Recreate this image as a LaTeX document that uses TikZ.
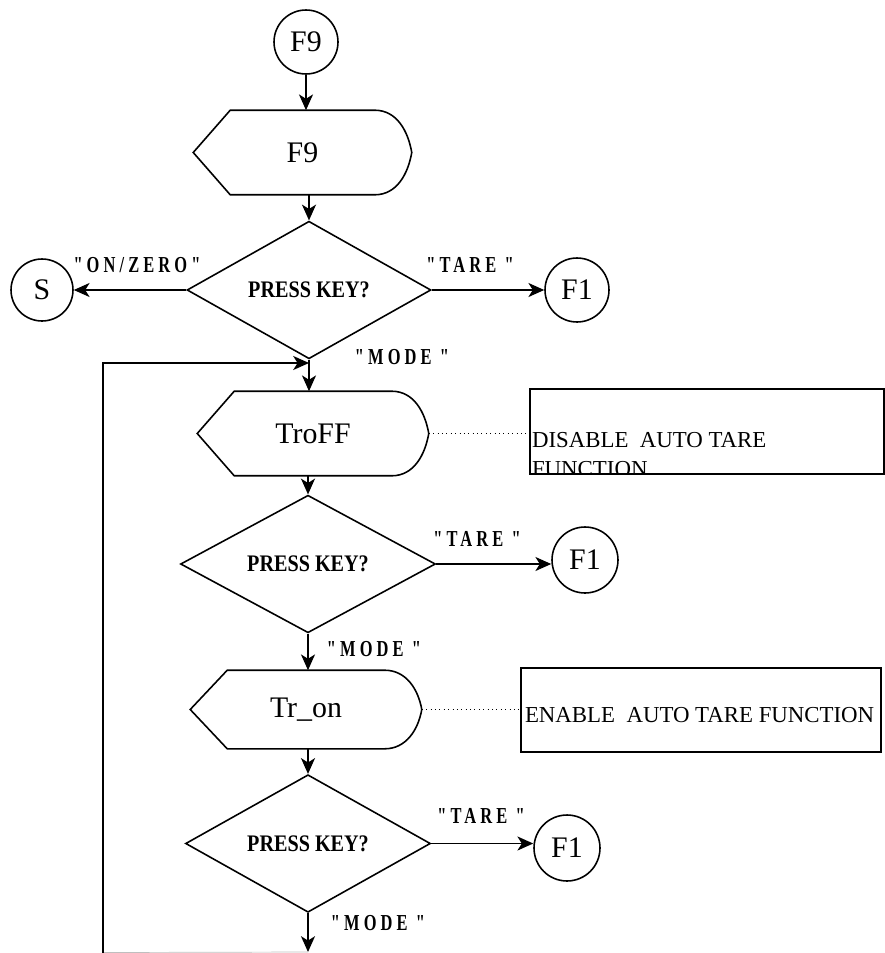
\documentclass[tikz,border=0pt]{standalone}
\usepackage{fontspec}
\setmainfont{Liberation Serif}
\newfontfamily\keyfont[LetterSpace=25]{Liberation Serif}
\usetikzlibrary{shapes.geometric, arrows.meta}
\newcommand{\keylabel}[1]{\scalebox{0.72}[1]{\keyfont\bfseries #1}}
\newcommand{\asktext}{\scalebox{0.85}[1]{PRESS KEY?}}
\newcommand{\dispoutline}[1]{
\draw (#1.west) -- ([xshift=0.74cm]#1.north west) -- ([xshift=-0.74cm]#1.north east)
    to[out=0,in=100] (#1.east) to[out=-100,in=0] ([xshift=-0.74cm]#1.south east)
    -- ([xshift=0.74cm]#1.south west) -- cycle;
}
\tikzset{
term/.style={draw, circle, inner sep=0, font=\fontsize{17}{19}\selectfont},
disp/.style={inner sep=0, font=\fontsize{17}{19}\selectfont},
ask/.style={draw, diamond, inner sep=0, font=\fontsize{13.5}{15}\selectfont\bfseries},
keylbl/.style={inner sep=0, font=\fontsize{13}{15}\selectfont},
note/.style={draw, inner sep=0},
notetext/.style={inner sep=0, align=left, font=\fontsize{13}{17}\selectfont},
flow/.style={-{Stealth[length=9pt, width=8pt, inset=2.5pt]}},
}

\begin{document}
\begin{tikzpicture}[x=0.02cm, y=-0.02cm, line width=0.9pt]
\useasboundingbox (0,0) rectangle (885,953);
% entry
\node[term, minimum size=1.28cm] (c9) at (306,42) {F9};
\node[disp, minimum width=4.34cm, minimum height=1.66cm] (d9) at (302.5,152.5) {F9};
\dispoutline{d9}
\node[ask, minimum width=4.88cm, minimum height=2.28cm] (k1) at (309,290) {\asktext};
\node[term, minimum size=1.24cm] (s) at (42,290) {S};
\node[term, minimum size=1.28cm] (f1a) at (577,290) {F1};
\draw[flow] (c9) -- (d9.north -| c9.south);
\draw[flow] (d9.south -| k1.north) -- (k1);
\draw[flow] (k1) -- (s);
\draw[flow] (k1) -- (f1a);
\node[keylbl] (lz) at (137,265) {\keylabel{"ON/ZERO"}};
\node[keylbl] (lt1) at (470,265) {\keylabel{"TARE "}};
\node[keylbl] (lm1) at (402,357) {\keylabel{"MODE "}};

% auto tare off
\node[disp, minimum width=4.6cm, minimum height=1.66cm] (doff) at (313,433.5) {TroFF};
\dispoutline{doff}
\node[note, minimum width=7.08cm, minimum height=1.7cm] (n1) at (707,431.5) {};
\begin{scope}
\clip (n1.south west) rectangle (n1.north east);
\node[notetext, anchor=north west] (t1) at ([xshift=0.04cm, yshift=-0.86cm]n1.north west) {DISABLE~~AUTO TARE\\FUNCTION};
\end{scope}
\draw[dotted, line width=0.5pt] (doff.east) -- (doff.east -| n1.west);
\coordinate (loopin) at (309,363);
\draw[flow] (k1.south) -- (doff.north -| k1.south);

\node[ask, minimum width=5.1cm, minimum height=2.2cm] (k2) at (308,564) {\asktext};
\node[term, minimum size=1.32cm] (f1b) at (585,560) {F1};
\draw[flow] (doff.south -| k2.north) -- (k2);
\draw[flow] (k2.east) -- (k2.east -| f1b.west);
\node[keylbl] (lt2) at (477,539) {\keylabel{"TARE "}};
\node[keylbl] (lm2) at (374,649) {\keylabel{"MODE "}};

% auto tare on
\node[disp, minimum width=4.6cm, minimum height=1.54cm] (don) at (306,709.5) {Tr\_on};
\dispoutline{don}
\node[note, minimum width=7.2cm, minimum height=1.68cm] (n2) at (701,710) {};
\node[notetext, anchor=base west] (t2) at ([xshift=0.08cm, yshift=-1.1cm]n2.north west) {ENABLE~~AUTO TARE FUNCTION};
\draw[dotted, line width=0.5pt] (don.east) -- (don.east -| n2.west);
\draw[flow] (k2.south) -- (don.north -| k2.south);

\node[ask, minimum width=4.9cm, minimum height=2.3cm] (k3) at (308,843.5) {\asktext};
\node[term, minimum size=1.32cm] (f1c) at (567,848) {F1};
\draw[flow] (don.south -| k3.north) -- (k3);
\draw[flow] (k3.east) -- (k3.east -| f1c.west);
\node[keylbl] (lt3) at (481,816) {\keylabel{"TARE "}};
\node[keylbl] (lm3) at (378,923) {\keylabel{"MODE "}};

% back to the top
\coordinate (out) at (308,952);
\coordinate (lb) at (103,952.5);
\draw[flow] (k3.south) -- (out);
\draw[gray!50, line width=0.4pt] (out) -- (lb);
\draw[flow] (lb) |- (loopin);
\end{tikzpicture}
\end{document}
